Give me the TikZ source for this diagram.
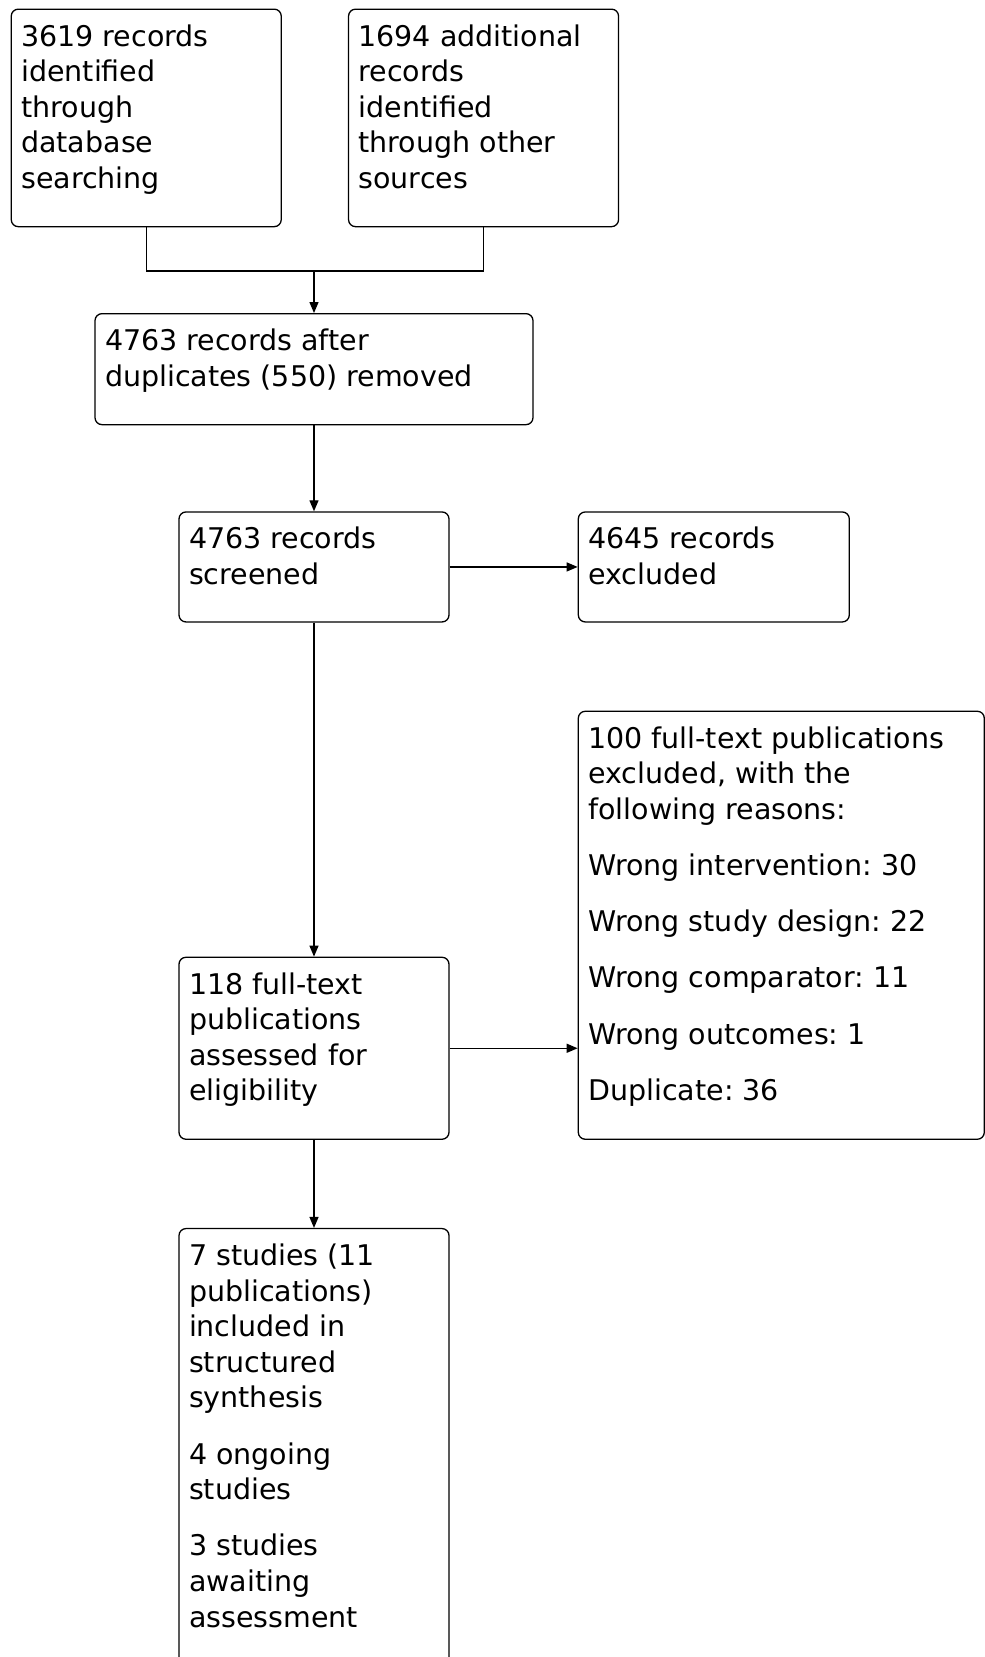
\documentclass[tikz,border=0pt]{standalone}
\usepackage{fontspec}
\setmainfont{DejaVu Sans}
\usepackage{tikz}
\usetikzlibrary{positioning,arrows.meta}
\tikzset{
    flowbox/.style={
        rectangle,
        rounded corners=7pt,
        draw=black,
        line width=1.3pt,
        inner xsep=10pt,
        inner ysep=12pt,
        font=\fontsize{28.5}{35.6}\selectfont
    },
    arrow/.style={
        ->,
        >={Triangle[length=11pt,width=9pt]},
        line width=1.3pt
    },
    link/.style={
        line width=1.3pt
    }
}
% text of a box, set from its top left corner
\newcommand{\boxtxt}[3]{\begin{minipage}[t][#2][t]{#1}\raggedright\frenchspacing\setlength{\parskip}{20.6pt}\strut #3\end{minipage}}

\begin{document}
\begin{tikzpicture}[x=1pt,y=1pt]
          \useasboundingbox (0,0) rectangle (985,-1657);
          \node (ident) [flowbox, anchor=north west] at (10.6,-8.5) {\boxtxt{250pt}{193.5pt}{3619 records\\identified\\through\\database\\searching}};
          \node (other) [flowbox, right=66pt of ident] {\boxtxt{250pt}{193.5pt}{1694 additional\\records\\identified\\through other\\sources}};
          \coordinate (join) at (314,-271);
          \node (dup) [flowbox, anchor=north] at (314,-313) {\boxtxt{418pt}{87pt}{4763 records after\\duplicates (550) removed}};
          \node (screen) [flowbox, below=86pt of dup] {\boxtxt{250pt}{86pt}{4763 records\\screened}};
          \node (excl) [flowbox, right=128pt of screen] {\boxtxt{251pt}{86pt}{4645 records\\excluded}};
          \node (full) [flowbox, below=334pt of screen] {\boxtxt{250pt}{158pt}{118 full-text\\publications\\assessed for\\eligibility}};
          \node (reasons) [flowbox, right=128pt of full.south east, anchor=south west] {\boxtxt{386pt}{404pt}{100 full-text publications\\excluded, with the\\following reasons:\par Wrong intervention: 30\par Wrong study design: 22\par Wrong comparator: 11\par Wrong outcomes: 1\par Duplicate: 36}};
          \node (incl) [flowbox, below=88pt of full] {\boxtxt{250pt}{417pt}{7 studies (11\\publications)\\included in\\structured\\synthesis\par 4 ongoing\\studies\par 3 studies\\awaiting\\assessment}};
          \draw [link] (ident.south) |- (join);
          \draw [link] (other.south) |- (join);
          \draw [arrow] (join) -- (dup.north);
          \draw [arrow] (dup) -- (screen);
          \draw [arrow] (screen) -- (excl);
          \draw [arrow] (screen) -- (full);
          \draw [arrow] (full.east) -- (full.east -| reasons.west);
          \draw [arrow] (full) -- (incl);
        \end{tikzpicture}
\end{document}
